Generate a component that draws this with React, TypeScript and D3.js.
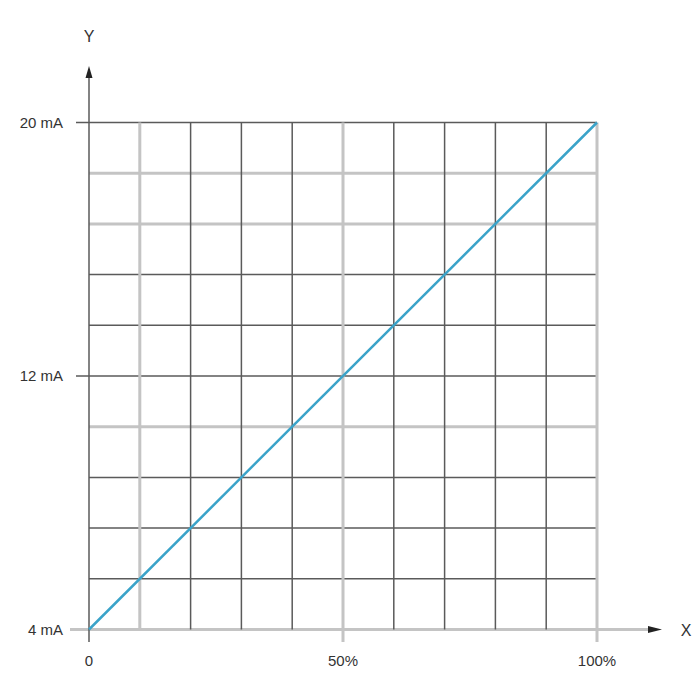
import React from "react";
import * as d3 from "d3";

const xDomain = [0, 100];
const yDomain = [4, 20];
const linePoints = [
  { pct: 0, mA: 4 },
  { pct: 100, mA: 20 },
];
const xGrid = [0, 10, 20, 30, 40, 50, 60, 70, 80, 90, 100];
const xGridLight = [10, 50, 100];
const yGrid = [4, 5.6, 7.2, 8.8, 10.4, 12, 13.6, 15.2, 16.8, 18.4, 20];
const yGridLight = [4, 10.4, 18.4, 16.8];
const xTicks = [
  { v: 0, label: "0" },
  { v: 50, label: "50%" },
  { v: 100, label: "100%" },
];
const yTicks = [
  { v: 4, label: "4 mA" },
  { v: 12, label: "12 mA" },
  { v: 20, label: "20 mA" },
];

export default function App() {
  const x = d3.scaleLinear().domain(xDomain).range([89, 597]);
  const y = d3.scaleLinear().domain(yDomain).range([629.5, 122.5]);
  const line = d3
    .line<{ pct: number; mA: number }>()
    .x((d) => x(d.pct))
    .y((d) => y(d.mA));
  const dark = "#5a5a5a";
  const light = "#c4c4c4";
  const font = "Liberation Sans, Arial, sans-serif";
  const isLightX = (v: number) => xGridLight.includes(v);
  const isLightY = (v: number) => yGridLight.some((g) => Math.abs(g - v) < 1e-6);
  return (
    <svg
      width={700}
      height={700}
      style={{ position: "absolute", left: 0, top: 0, background: "#fff" }}
    >
      {/* horizontal grid */}
      {yGrid.map((v) => {
        const lt = isLightY(v);
        const tick = yTicks.some((t) => t.v === v);
        return (
          <line
            key={"h" + v}
            x1={tick ? (v === 4 ? 70 : 76) : x(0)}
            x2={v === 4 ? 648 : x(100)}
            y1={y(v)}
            y2={y(v)}
            stroke={lt ? light : dark}
            strokeWidth={lt ? 3 : 1.5}
          />
        );
      })}
      {/* vertical grid */}
      {xGrid.map((v) => {
        if (v === 0) return null;
        const lt = isLightX(v);
        const tick = xTicks.some((t) => t.v === v);
        return (
          <line
            key={"v" + v}
            x1={x(v)}
            x2={x(v)}
            y1={y(20)}
            y2={tick ? 642 : y(4)}
            stroke={lt ? light : dark}
            strokeWidth={lt ? 3 : 1.5}
          />
        );
      })}
      {/* y axis */}
      <line x1={x(0)} x2={x(0)} y1={642} y2={76} stroke={dark} strokeWidth={1.5} />
      <path
        d={`M${x(0)},66 L${x(0) - 3.5},78 L${x(0) + 3.5},78 Z`}
        fill="#222"
      />
      {/* x axis arrow */}
      <path d={`M662,${y(4)} L648,${y(4) - 3.5} L648,${y(4) + 3.5} Z`} fill="#222" />
      {/* data line */}
      <path d={line(linePoints) || ""} fill="none" stroke="#3aa3c9" strokeWidth={2.5} />
      {/* labels */}
      {yTicks.map((t) => (
        <text
          key={"yl" + t.v}
          x={63}
          y={y(t.v)}
          dy="0.35em"
          textAnchor="end"
          fontFamily={font}
          fontSize={15}
          fill="#333"
        >
          {t.label}
        </text>
      ))}
      {xTicks.map((t) => (
        <text
          key={"xl" + t.v}
          x={x(t.v)}
          y={661}
          dy="0.35em"
          textAnchor="middle"
          fontFamily={font}
          fontSize={15}
          fill="#333"
        >
          {t.label}
        </text>
      ))}
      <text x={89} y={36} dy="0.35em" textAnchor="middle" fontFamily={font} fontSize={16} fill="#333">
        Y
      </text>
      <text x={686} y={630} dy="0.35em" textAnchor="middle" fontFamily={font} fontSize={16} fill="#333">
        X
      </text>
    </svg>
  );
}
